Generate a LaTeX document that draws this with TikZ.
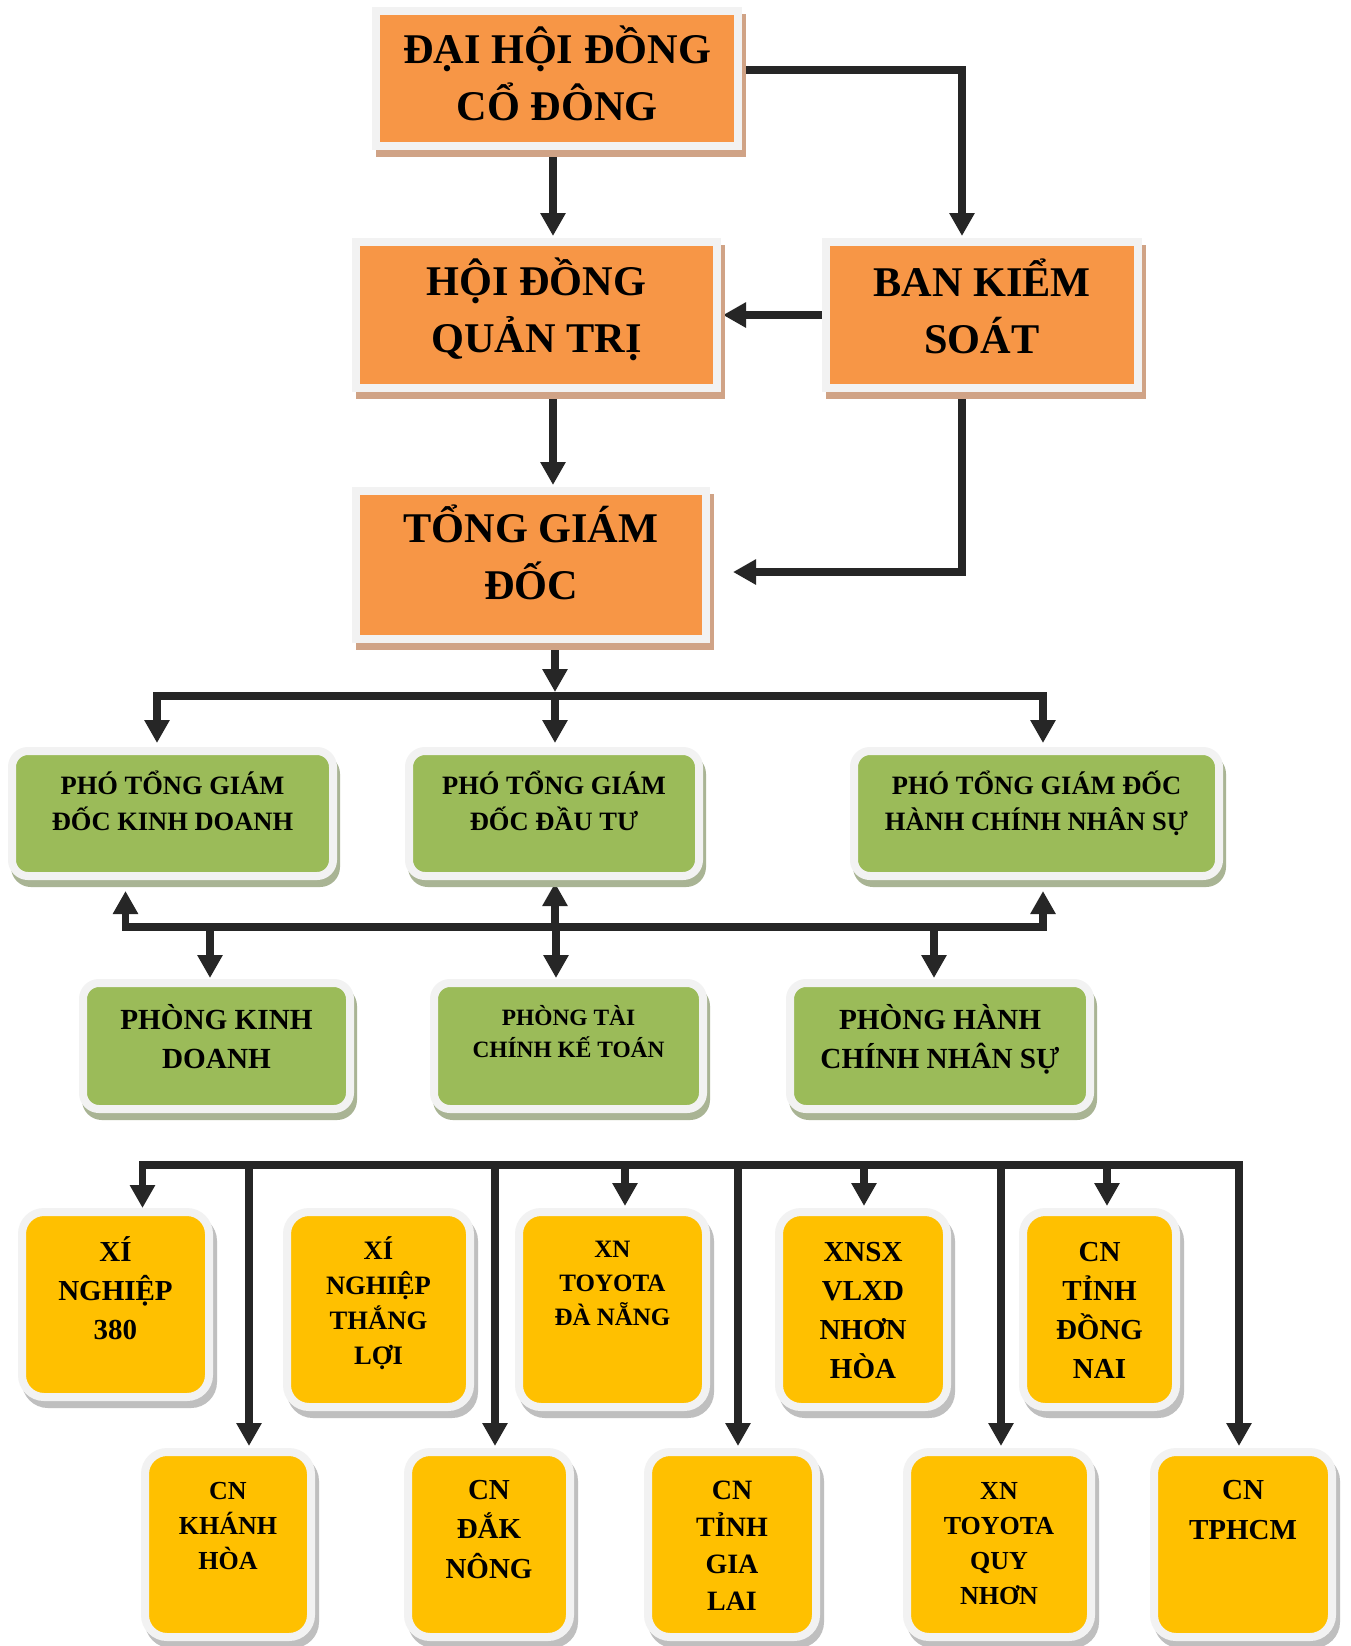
\documentclass[tikz,border=0pt]{standalone}
\usepackage{fontspec}
\setmainfont{Liberation Serif}
\usetikzlibrary{arrows.meta,backgrounds}

\definecolor{ofill}{HTML}{F79646}
\definecolor{oshade}{HTML}{D0A386}
\definecolor{gfill}{HTML}{9BBB59}
\definecolor{gshade}{HTML}{A9B494}
\definecolor{yfill}{HTML}{FFC000}
\definecolor{yshade}{HTML}{BFBFBF}
\definecolor{rim}{HTML}{F2F2F2}
\definecolor{ink}{HTML}{262626}

% box text: width, height, first-baseline depth, font size, line skip, lines
\newcommand\btext[6]{\parbox[c][#2pt][t]{#1pt}{\centering\fontsize{#4pt}{#5pt}\selectfont\bfseries\rule{0pt}{#3pt}#6\par}}

\tikzset{
  unit/.style={rectangle, inner sep=0pt, draw=rim, line width=4pt},
  obox/.style={unit, fill=ofill,
    preaction={fill=oshade, draw=oshade, line width=4pt, transform canvas={xshift=2pt,yshift=-3.5pt}}},
  gbox/.style={unit, rounded corners=8pt, fill=gfill,
    preaction={fill=gshade, draw=gshade, line width=4pt, transform canvas={xshift=1.5pt,yshift=-3.5pt}}},
  ybox/.style={unit, rounded corners=11pt, fill=yfill,
    preaction={fill=yshade, draw=yshade, line width=4pt, transform canvas={xshift=2pt,yshift=-3.5pt}}},
  conn/.style={draw=ink, line width=3.75pt, -{Triangle[width=12pt,length=11.5pt]}, shorten >=1pt},
  twoheads/.style={{Triangle[width=12pt,length=11.5pt]}-{Triangle[width=12pt,length=11.5pt]}},
}

\begin{document}
\begin{tikzpicture}[x=0.5pt,y=-0.5pt]
\useasboundingbox (0,0) rectangle (1351,1646);

% governing bodies
\node[obox] (A) at (557,78.5) {\btext{181}{67.5}{26}{21.15}{28.5}{ĐẠI HỘI ĐỒNG\\CỔ ĐÔNG}};
\node[obox] (B) at (536.5,315) {\btext{180.5}{73}{26.5}{21.15}{28.5}{HỘI ĐỒNG\\QUẢN TRỊ}};
\node[obox] (C) at (982,315) {\btext{156}{73}{27}{21.15}{28.5}{BAN KIỂM\\SOÁT}};
\node[obox] (D) at (531,565) {\btext{175}{74}{25.5}{21.15}{28.5}{TỔNG GIÁM\\ĐỐC}};

% deputy directors
\node[gbox] (E) at (172.5,813.5) {\btext{160.5}{62.5}{21.5}{13.25}{18}{PHÓ TỔNG GIÁM\\ĐỐC KINH DOANH}};
\node[gbox] (F) at (554,813.5) {\btext{145}{62.5}{21.5}{13.25}{18}{PHÓ TỔNG GIÁM\\ĐỐC ĐẦU TƯ}};
\node[gbox] (G) at (1036.5,813.5) {\btext{182.5}{62.5}{21.5}{13.25}{18}{PHÓ TỔNG GIÁM ĐỐC\\HÀNH CHÍNH NHÂN SỰ}};

% departments
\node[gbox] (H) at (216.5,1046) {\btext{133.5}{63}{23}{14.6}{19.5}{PHÒNG KINH\\DOANH}};
\node[gbox] (I) at (568.5,1046) {\btext{134.5}{63}{21}{11.7}{16}{PHÒNG TÀI\\CHÍNH KẾ TOÁN}};
\node[gbox] (J) at (940,1046) {\btext{150}{63}{23}{14.6}{19.5}{PHÒNG HÀNH\\CHÍNH NHÂN SỰ}};

% branches, first row
\node[ybox] (K) at (115.5,1304.5) {\btext{93.5}{92.5}{24.5}{14.5}{19.5}{XÍ\\NGHIỆP\\380}};
\node[ybox] (L) at (378.5,1309.5) {\btext{91.5}{97.5}{23.5}{13.3}{17.65}{XÍ\\NGHIỆP\\THẮNG\\LỢI}};
\node[ybox] (M) at (612.5,1309.5) {\btext{93.5}{97.5}{22.5}{12.5}{17}{XN\\TOYOTA\\ĐÀ NẴNG}};
\node[ybox] (N) at (863,1309.5) {\btext{84}{97.5}{24.5}{14.5}{19.5}{XNSX\\VLXD\\NHƠN\\HÒA}};
\node[ybox] (O) at (1099.5,1309.5) {\btext{76.5}{97.5}{24.5}{14.5}{19.5}{CN\\TỈNH\\ĐỒNG\\NAI}};

% branches, second row
\node[ybox] (P) at (228,1544.5) {\btext{83}{92.5}{23.5}{13}{17.5}{CN\\KHÁNH\\HÒA}};
\node[ybox] (Q) at (489,1544.5) {\btext{81}{92.5}{23.5}{14.5}{19.75}{CN\\ĐẮK\\NÔNG}};
\node[ybox] (R) at (732,1544.5) {\btext{84}{92.5}{23.5}{14}{18.65}{CN\\TỈNH\\GIA\\LAI}};
\node[ybox] (S) at (999,1544.5) {\btext{92}{92.5}{23.5}{13}{17.5}{XN\\TOYOTA\\QUY\\NHƠN}};
\node[ybox] (T) at (1243,1544.5) {\btext{89}{92.5}{23.5}{14.5}{20}{CN\\TPHCM}};

% junction points of the connector buses
\coordinate (ab) at (553,200);
\coordinate (bd) at (553,440);
\coordinate (b1L) at (157,696);
\coordinate (b1c) at (555,696);
\coordinate (b1R) at (1043,696);
\coordinate (b2L) at (125.5,927);
\coordinate (b2c) at (555,927);
\coordinate (b2R) at (1043,927);
\coordinate (d1) at (210,927);
\coordinate (d2) at (556,927);
\coordinate (d3) at (934,927);
\coordinate (b3L) at (142.5,1165);
\coordinate (b3R) at (1239,1165);
\coordinate (e1) at (249,1165);
\coordinate (e2) at (495,1165);
\coordinate (e3) at (625,1165);
\coordinate (e4) at (738,1165);
\coordinate (e5) at (864,1165);
\coordinate (e6) at (1001,1165);
\coordinate (e7) at (1107,1165);

\begin{scope}[on background layer]
\fill[white] (0,0) rectangle (1351,1646);

\draw[conn] (ab |- A.south) -- (ab |- B.north);
\draw[conn] ([yshift=4.25pt]A.east) -| ([xshift=-10pt]C.north);
\draw[conn] (C.west) -- (B.east);
\draw[conn] (bd |- B.south) -- (bd |- D.north);
\draw[conn, shorten >=0pt] ([xshift=-10pt]C.south) |- ([xshift=11.5pt,yshift=-3.5pt]D.east);

% general director to deputies
\draw[conn, shorten >=0pt] (b1c |- D.south) -- ([yshift=2pt]b1c);
\draw[conn, twoheads, shorten <=2pt, shorten >=2pt] (b1L |- E.north) -- (b1L) -- (b1R) -- (b1R |- G.north);
\draw[conn, shorten >=2pt] (b1c) -- (b1c |- F.north);

% deputies and departments
\draw[conn, twoheads, shorten <=5.5pt, shorten >=5.5pt] (b2L |- E.south) -- (b2L) -- (b2R) -- (b2R |- G.south);
\draw[conn, shorten >=1.5pt] (b2c) -- (b2c |- F.south);
\draw[conn, shorten >=0.5pt] (d1) -- (d1 |- H.north);
\draw[conn, shorten >=0.5pt] (d2) -- (d2 |- I.north);
\draw[conn, shorten >=0.5pt] (d3) -- (d3 |- J.north);

% branch bus
\draw[conn, twoheads, shorten <=0pt, shorten >=1pt] (b3L |- K.north) -- (b3L) -- (b3R) -- (b3R |- T.north);
\draw[conn] (e1) -- (e1 |- P.north);
\draw[conn] (e2) -- (e2 |- Q.north);
\draw[conn] (e3) -- (e3 |- M.north);
\draw[conn] (e4) -- (e4 |- R.north);
\draw[conn] (e5) -- (e5 |- N.north);
\draw[conn] (e6) -- (e6 |- S.north);
\draw[conn] (e7) -- (e7 |- O.north);
\end{scope}
\end{tikzpicture}
\end{document}
